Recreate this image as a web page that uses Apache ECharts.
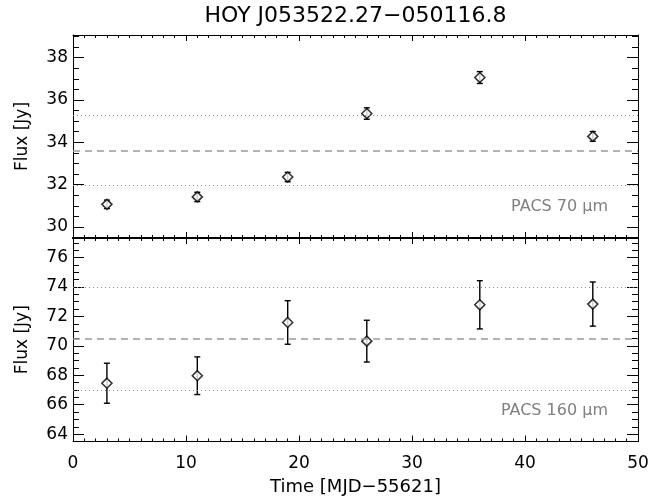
<!DOCTYPE html>
<html><head><meta charset="utf-8">
<script src="https://cdn.jsdelivr.net/npm/echarts@6/dist/echarts.min.js"></script>
<style>html,body{margin:0;padding:0;background:#fff}#c{width:649px;height:499px}</style>
</head><body><div id="c"></div>
<script>
// ---- data ----
const time = [3, 11, 19, 26, 36, 46];
const flux70 = [31.07, 31.42, 32.36, 35.36, 37.06, 34.28];
const err70 = [0.20, 0.22, 0.22, 0.27, 0.28, 0.23];
const flux160 = [67.46, 67.97, 71.59, 70.32, 72.79, 72.84];
const err160 = [1.36, 1.28, 1.48, 1.42, 1.64, 1.50];
const mean70 = 33.62, sd70 = 1.66;
const mean160 = 70.48, sd160 = 3.50;
const xTickLabels = [0, 10, 20, 30, 40, 50];
const yTicks70 = [30, 32, 34, 36, 38];
const yTicks160 = [64, 66, 68, 70, 72, 74, 76];
const titleText = 'HOY J053522.27\u2212050116.8';
const xName = 'Time [MJD\u221255621]';
const yName = 'Flux [Jy]';
const band70 = 'PACS 70 \u03bcm';
const band160 = 'PACS 160 \u03bcm';

const FONT = 'DejaVu Sans';
const range70 = [29.48, 39.07];
const range160 = [63.5, 77.33];

function xAxisDef(grid, pos, labels, extra, lw) {
  return Object.assign({
    gridIndex: grid, type: 'value', position: pos,
    min: xTickLabels[0], max: xTickLabels[xTickLabels.length - 1], interval: 10,
    axisLine: { show: true, onZero: false, lineStyle: { color: '#000', width: lw || 1 } },
    axisTick: { show: true, inside: true, length: 6, lineStyle: { color: '#000', width: 1 } },
    minorTick: { show: true, splitNumber: 10, length: 3, lineStyle: { color: '#000', width: 1 } },
    splitLine: { show: false },
    axisLabel: { show: labels, color: '#000', fontFamily: FONT, fontSize: 17, margin: 14 }
  }, extra || {});
}
function yAxisDef(grid, pos, range, ticks, labels, extra) {
  return Object.assign({
    gridIndex: grid, type: 'value', position: pos,
    min: range[0], max: range[1], splitNumber: Math.round((range[1] - range[0]) / 2),
    axisLine: { show: true, onZero: false, lineStyle: { color: '#000', width: 1 } },
    axisTick: { show: true, inside: true, length: 11, lineStyle: { color: '#000', width: 1 } },
    minorTick: { show: true, splitNumber: 4, length: 6, lineStyle: { color: '#000', width: 1 } },
    splitLine: { show: false },
    axisLabel: { show: labels, color: '#000', fontFamily: FONT, fontSize: 17, margin: 5,
      formatter: v => ticks.indexOf(Math.round(v * 1000) / 1000) >= 0 ? String(v) : '' }
  }, extra || {});
}

function errSeries(xi, yi, vals, errs) {
  return {
    type: 'custom', xAxisIndex: xi, yAxisIndex: yi, z: 2, silent: true,
    data: time.map((t, i) => [t, vals[i] - errs[i], vals[i] + errs[i]]),
    renderItem: function (params, api) {
      const t = api.value(0);
      const lo = api.coord([t, api.value(1)]);
      const hi = api.coord([t, api.value(2)]);
      const w = 3;
      const st = { stroke: '#000', lineWidth: 1.4 };
      return { type: 'group', children: [
        { type: 'line', shape: { x1: hi[0], y1: hi[1], x2: lo[0], y2: lo[1] }, style: st },
        { type: 'line', shape: { x1: hi[0] - w, y1: hi[1], x2: hi[0] + w, y2: hi[1] }, style: st },
        { type: 'line', shape: { x1: lo[0] - w, y1: lo[1], x2: lo[0] + w, y2: lo[1] }, style: st }
      ]};
    }
  };
}
function ptSeries(xi, yi, vals, mean, sd) {
  return {
    type: 'scatter', xAxisIndex: xi, yAxisIndex: yi, z: 3, silent: true,
    symbol: 'diamond', symbolSize: [10, 10],
    itemStyle: { color: '#fff', borderColor: '#000', borderWidth: 1.6 },
    data: time.map((t, i) => [t, vals[i]]),
    markLine: {
      silent: true, symbol: 'none', animation: false, label: { show: false },
      data: [
        { yAxis: mean + sd, lineStyle: { color: '#8a8a8a', type: [1, 3], width: 1 } },
        { yAxis: mean, lineStyle: { color: '#9a9a9a', type: [7, 5], width: 1.5 } },
        { yAxis: mean - sd, lineStyle: { color: '#8a8a8a', type: [1, 3], width: 1 } }
      ]
    }
  };
}

const chart = echarts.init(document.getElementById('c'), null, { renderer: 'canvas' });
chart.setOption({
  animation: false,
  backgroundColor: '#fff',
  grid: [
    { left: 73, right: 11, top: 35, height: 203, containLabel: false, outerBoundsMode: 'none' },
    { left: 73, right: 11, top: 238, height: 203.5, containLabel: false, outerBoundsMode: 'none' }
  ],
  xAxis: [
    xAxisDef(0, 'bottom', false, null, 2),
    xAxisDef(0, 'top', false, { name: titleText, nameLocation: 'middle', nameGap: 8,
      nameTextStyle: { color: '#000', fontFamily: FONT, fontSize: 22 } }),
    xAxisDef(1, 'bottom', true, { name: xName, nameLocation: 'middle', nameGap: 37,
      nameTextStyle: { color: '#000', fontFamily: FONT, fontSize: 18 } }),
    xAxisDef(1, 'top', false, null, 2)
  ],
  yAxis: [
    yAxisDef(0, 'left', range70, yTicks70, true, { name: yName, nameLocation: 'middle', nameGap: 42,
      nameTextStyle: { color: '#000', fontFamily: FONT, fontSize: 17 } }),
    yAxisDef(0, 'right', range70, yTicks70, false),
    yAxisDef(1, 'left', range160, yTicks160, true, { name: yName, nameLocation: 'middle', nameGap: 42,
      nameTextStyle: { color: '#000', fontFamily: FONT, fontSize: 17 } }),
    yAxisDef(1, 'right', range160, yTicks160, false)
  ],
  graphic: [
    { type: 'text', x: 608, y: 207, style: { text: band70, fill: '#808080', font: '16px "DejaVu Sans"', align: 'right', verticalAlign: 'middle' } },
    { type: 'text', x: 608, y: 411, style: { text: band160, fill: '#808080', font: '16px "DejaVu Sans"', align: 'right', verticalAlign: 'middle' } }
  ],
  series: [
    errSeries(0, 0, flux70, err70),
    ptSeries(0, 0, flux70, mean70, sd70),
    errSeries(2, 2, flux160, err160),
    ptSeries(2, 2, flux160, mean160, sd160)
  ]
});
</script></body></html>
